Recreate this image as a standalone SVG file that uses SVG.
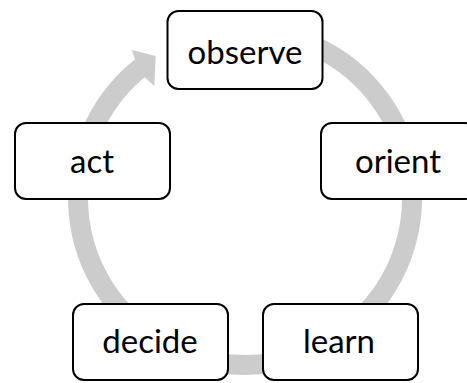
<svg xmlns="http://www.w3.org/2000/svg" width="467" height="383" viewBox="0 0 467 383">
<style>
.node rect{fill:#ffffff;stroke:#000000;stroke-width:2;}
.node text{font-family:Lato,"Liberation Sans",sans-serif;font-size:33px;fill:#000000;text-anchor:middle;}
.ring{fill:none;stroke:#cccccc;stroke-width:20;}
.head{fill:#cccccc;stroke:none;}
</style>
<rect width="467" height="383" fill="#ffffff"/>
<g id="connectors">
<path class="ring" d="M 245 31 A 167 167 0 1 1 142.2 66.4"/>
<polygon class="head" points="131.7,50 155.7,56 154.3,86 140,73"/>
</g>
<g id="observe" class="node"><rect x="167.5" y="11" width="155" height="78" rx="11"/><text x="245" y="64">observe</text></g>
<g id="orient" class="node"><rect x="321" y="123" width="155" height="76" rx="11"/><text x="398" y="173">orient</text></g>
<g id="learn" class="node"><rect x="263" y="304" width="155" height="76" rx="11"/><text x="339" y="353">learn</text></g>
<g id="decide" class="node"><rect x="73" y="304" width="155" height="76" rx="11"/><text x="150" y="353">decide</text></g>
<g id="act" class="node"><rect x="15" y="123" width="155" height="76" rx="11"/><text x="92" y="173">act</text></g>
</svg>
